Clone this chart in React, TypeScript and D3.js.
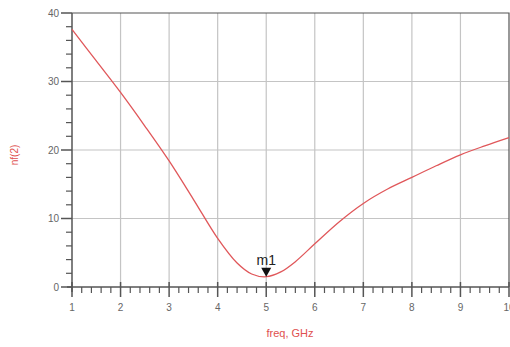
import React, { useEffect, useRef } from "react";
import * as d3 from "d3";

// noise figure nf(2) vs frequency
const freq = [1, 1.5, 2, 2.5, 3, 3.5, 4, 4.4, 4.7, 5, 5.3, 5.6, 6, 6.5, 7, 7.5, 8, 8.5, 9, 9.5, 10];
const nf = [37.6, 33.0, 28.4, 23.5, 18.4, 12.8, 7.1, 3.5, 1.9, 1.5, 2.2, 3.7, 6.3, 9.5, 12.2, 14.3, 16.0, 17.7, 19.3, 20.6, 21.8];
const xTicks = [1, 2, 3, 4, 5, 6, 7, 8, 9, 10];
const yTicks = [0, 10, 20, 30, 40];
const markerFreq = 5;
const markerName = "m1";

function App() {
  const svgRef = useRef<SVGSVGElement | null>(null);

  useEffect(() => {
    const svg = d3.select(svgRef.current);
    svg.selectAll("*").remove();
    const width = 510;
    const height = 347;
    const margin = { top: 13, right: 1, bottom: 60, left: 72 };
    const axisColor = "#555";
    const gridColor = "#c4c4c4";
    const curveColor = "#e0575a";
    const font = "Arial, 'Liberation Sans', sans-serif";

    const x = d3.scaleLinear().domain([1, 10]).range([margin.left, width - margin.right]);
    const y = d3.scaleLinear().domain([0, 40]).range([height - margin.bottom, margin.top]);

    // grid
    svg
      .append("g")
      .selectAll("line")
      .data(xTicks.slice(1, -1))
      .join("line")
      .attr("x1", (d) => x(d))
      .attr("x2", (d) => x(d))
      .attr("y1", y(40))
      .attr("y2", y(0))
      .attr("stroke", gridColor)
      .attr("stroke-width", 1.2);
    svg
      .append("g")
      .selectAll("line")
      .data(yTicks.slice(1, -1))
      .join("line")
      .attr("x1", x(1))
      .attr("x2", x(10))
      .attr("y1", (d) => y(d))
      .attr("y2", (d) => y(d))
      .attr("stroke", gridColor)
      .attr("stroke-width", 1.2);

    // frame top / right
    svg
      .append("path")
      .attr("d", `M${x(1)},${y(40)}H${x(10)}V${y(0)}`)
      .attr("fill", "none")
      .attr("stroke", axisColor)
      .attr("stroke-width", 1.2);

    // x axis
    const xMinor = d3.range(1, 10.001, 0.2).filter((v) => Math.abs(v - Math.round(v)) > 0.01);
    const xAxis = svg.append("g").attr("transform", `translate(0, ${y(0)})`);
    xAxis
      .append("line")
      .attr("x1", x(1) - 5)
      .attr("x2", x(10))
      .attr("stroke", axisColor)
      .attr("stroke-width", 1.5);
    xAxis
      .selectAll("line.minor")
      .data(xMinor)
      .join("line")
      .attr("class", "minor")
      .attr("x1", (d) => x(d))
      .attr("x2", (d) => x(d))
      .attr("y1", 0)
      .attr("y2", 6)
      .attr("stroke", axisColor)
      .attr("stroke-width", 1.2);
    xAxis
      .selectAll("line.major")
      .data(xTicks)
      .join("line")
      .attr("class", "major")
      .attr("x1", (d) => x(d))
      .attr("x2", (d) => x(d))
      .attr("y1", -5)
      .attr("y2", 10)
      .attr("stroke", axisColor)
      .attr("stroke-width", 1.5);
    xAxis
      .selectAll("text")
      .data(xTicks)
      .join("text")
      .attr("x", (d) => x(d))
      .attr("y", 24)
      .attr("text-anchor", "middle")
      .attr("font-family", font)
      .attr("font-size", 10)
      .attr("fill", "#666")
      .text((d) => d);

    // y axis
    const yMinor = d3.range(0, 40.001, 2).filter((v) => v % 10 !== 0);
    const yAxis = svg.append("g").attr("transform", `translate(${x(1)}, 0)`);
    yAxis
      .append("line")
      .attr("y1", y(40))
      .attr("y2", y(0) + 5)
      .attr("stroke", axisColor)
      .attr("stroke-width", 1.5);
    yAxis
      .selectAll("line.minor")
      .data(yMinor)
      .join("line")
      .attr("class", "minor")
      .attr("x1", -6)
      .attr("x2", 0)
      .attr("y1", (d) => y(d))
      .attr("y2", (d) => y(d))
      .attr("stroke", axisColor)
      .attr("stroke-width", 1.2);
    yAxis
      .selectAll("line.major")
      .data(yTicks)
      .join("line")
      .attr("class", "major")
      .attr("x1", -11)
      .attr("x2", 0)
      .attr("y1", (d) => y(d))
      .attr("y2", (d) => y(d))
      .attr("stroke", axisColor)
      .attr("stroke-width", 1.5);
    yAxis
      .selectAll("text")
      .data(yTicks)
      .join("text")
      .attr("x", -13)
      .attr("y", (d) => y(d))
      .attr("dy", "0.35em")
      .attr("text-anchor", "end")
      .attr("font-family", font)
      .attr("font-size", 10)
      .attr("fill", "#666")
      .text((d) => d);

    // curve
    const line = d3
      .line<number>()
      .x((d, i) => x(freq[i]))
      .y((d) => y(d))
      .curve(d3.curveCatmullRom.alpha(0.5));
    svg
      .append("path")
      .datum(nf)
      .attr("fill", "none")
      .attr("stroke", curveColor)
      .attr("stroke-width", 1.3)
      .attr("d", line);

    // marker m1
    const mi = freq.indexOf(markerFreq);
    const mx = x(markerFreq);
    const my = y(nf[mi]);
    svg
      .append("path")
      .attr("d", `M${mx - 5},${my - 9}L${mx + 5},${my - 9}L${mx},${my}Z`)
      .attr("fill", "#111");
    svg
      .append("text")
      .attr("x", mx)
      .attr("y", my - 12)
      .attr("text-anchor", "middle")
      .attr("font-family", font)
      .attr("font-size", 14)
      .attr("fill", "#222")
      .text(markerName);

    // axis titles
    svg
      .append("text")
      .attr("x", 290)
      .attr("y", 337)
      .attr("text-anchor", "middle")
      .attr("font-family", font)
      .attr("font-size", 11)
      .attr("fill", "#e0504f")
      .text("freq, GHz");
    svg
      .append("text")
      .attr("transform", `translate(18, ${155}) rotate(-90)`)
      .attr("text-anchor", "middle")
      .attr("font-family", font)
      .attr("font-size", 10)
      .attr("fill", "#e0504f")
      .text("nf(2)");
  }, []);

  return (
    <svg
      ref={svgRef}
      width={510}
      height={347}
      style={{ position: "absolute", left: 0, top: 0, background: "#fff" }}
    ></svg>
  );
}

export default App;
